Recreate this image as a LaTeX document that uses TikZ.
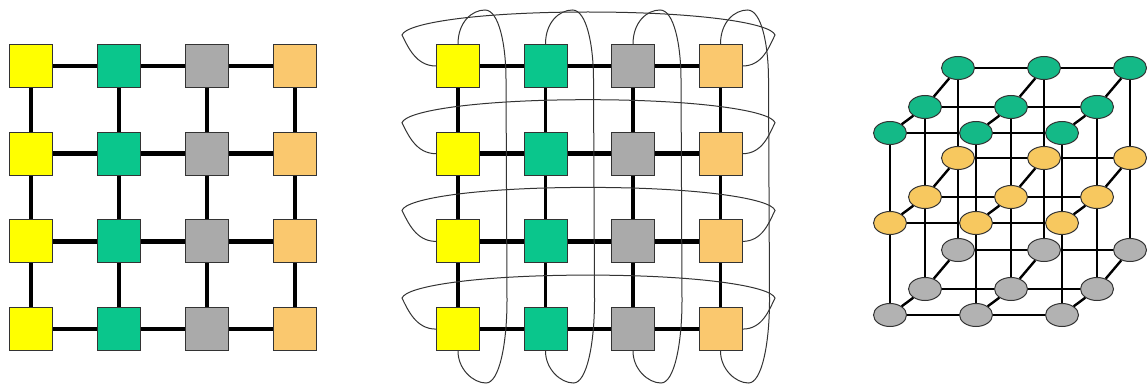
\documentclass[tikz,border=0pt]{standalone}
\usetikzlibrary{shapes.geometric}
\definecolor{tileyellow}{RGB}{255,255,0}
\definecolor{tilegreen}{RGB}{10,198,140}
\definecolor{tilegray}{RGB}{170,170,170}
\definecolor{tileorange}{RGB}{250,200,110}
\definecolor{ballgreen}{RGB}{20,185,135}
\definecolor{ballyellow}{RGB}{247,200,95}
\definecolor{ballgray}{RGB}{178,178,178}

\begin{document}
\begin{tikzpicture}[x=1pt, y=-1pt,
    tile/.style={draw=black!80, line width=1pt, minimum size=43pt, inner sep=0pt},
    hlink/.style={line width=4.5pt},
    vlink/.style={line width=3.2pt},
    ring/.style={draw=black!80, line width=1pt},
    ball/.style={ellipse, draw=black!80, line width=1pt, minimum width=33pt,
                 minimum height=23pt, inner sep=0pt},
    clink/.style={line width=2.4pt}
]
\useasboundingbox (0,0) rectangle (1147,385);

% 2D mesh
\foreach \c/\col in {1/tileyellow,2/tilegreen,3/tilegray,4/tileorange}
  \foreach \r in {1,...,4}
    \node[tile, fill=\col] (m\r\c) at ({31+88*(\c-1)}, {66+87.7*(\r-1)}) {};

\foreach \r in {1,...,4}
  \draw[hlink] (m\r1) -- (m\r2) -- (m\r3) -- (m\r4);
\foreach \c in {1,...,4}
  \draw[vlink] (m1\c) -- (m2\c) -- (m3\c) -- (m4\c);

% 2D torus
\foreach \c/\col in {1/tileyellow,2/tilegreen,3/tilegray,4/tileorange}
  \foreach \r in {1,...,4}
    \node[tile, fill=\col] (t\r\c) at ({458+87.5*(\c-1)}, {66+87.7*(\r-1)}) {};

\foreach \r in {1,...,4}
  \draw[hlink] (t\r1) -- (t\r2) -- (t\r3) -- (t\r4);
\foreach \c in {1,...,4}
  \draw[vlink] (t1\c) -- (t2\c) -- (t3\c) -- (t4\c);

% wrap-around rings
\foreach \r in {1,...,4}{
  \pgfmathsetmacro\Y{66+87.7*(\r-1)}
  \draw[ring] (t\r1.west) .. controls +(-20,0) and +(6,12) .. (402,\Y-31)
    .. controls +(4,-12) and +(-110,0) .. (588,\Y-54)
    .. controls +(110,0) and +(-4,-12) .. (775,\Y-31)
    .. controls +(-6,12) and +(20,0) .. (t\r4.east);
}
\foreach \c in {1,...,4}{
  \pgfmathsetmacro\X{458+87.5*(\c-1)}
  \draw[ring] (t1\c.north) .. controls +(0,-22) and +(-13,0) .. (\X+27,10)
    .. controls +(14,0) and +(0,-35) .. (\X+48,80) -- (\X+49,300)
    .. controls +(0,45) and +(13,0) .. (\X+28,383)
    .. controls +(-13,0) and +(0,18) .. (t4\c.south);
}

% 3D mesh
\foreach \l/\col/\y in {1/ballgreen/133,2/ballyellow/223,3/ballgray/315}
  \foreach \d/\dx/\dy in {2/68/-65,1/35/-26,0/0/0}
    \foreach \c in {1,2,3}
      \node[ball, fill=\col] (k\l\d\c) at ({890+86*(\c-1)+\dx}, {\y+\dy}) {};

\foreach \l in {1,2,3}
  \foreach \d in {0,1,2}
    \draw[clink] (k\l\d1) -- (k\l\d2) -- (k\l\d3);
\foreach \l in {1,2,3}
  \foreach \c in {1,2,3}
    \draw[clink] (k\l0\c) -- (k\l1\c) -- (k\l2\c);
\foreach \d in {0,1,2}
  \foreach \c in {1,2,3}
    \draw[clink] (k1\d\c) -- (k2\d\c) -- (k3\d\c);

\end{tikzpicture}
\end{document}
